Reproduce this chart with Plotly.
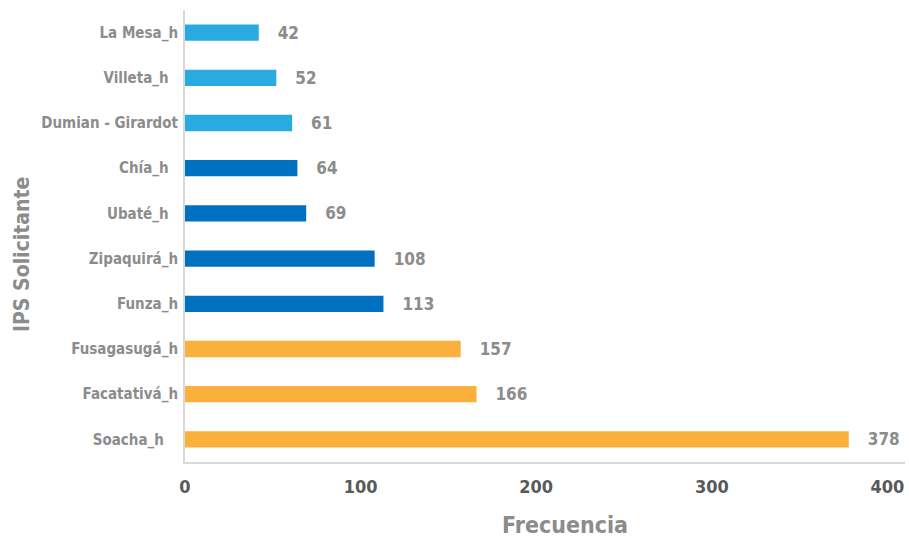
import plotly.graph_objects as go

categories = ["La Mesa_h", "Villeta_h", "Dumian - Girardot", "Chía_h", "Ubaté_h",
              "Zipaquirá_h", "Funza_h", "Fusagasugá_h", "Facatativá_h", "Soacha_h"]
values = [42, 52, 61, 64, 69, 108, 113, 157, 166, 378]
groups = ["light", "light", "light", "dark", "dark", "dark", "dark", "orange", "orange", "orange"]
x_ticks = [0, 100, 200, 300, 400]

palette = {"light": "#29ABE2", "dark": "#0070C0", "orange": "#FBB03B"}
colors = [palette[g] for g in groups]

FONT = "DejaVu Sans Condensed, Roboto, sans-serif"
pad = {"Villeta_h": "\u00a0\u00a0", "Chía_h": "\u00a0\u00a0", "Ubaté_h": "\u00a0\u00a0", "Soacha_h": "\u00a0\u00a0\u00a0"}

fig = go.Figure(go.Bar(
    x=values, y=categories, orientation="h",
    marker=dict(color=colors, line=dict(width=0)),
    width=0.36,
    text=values, texttemplate="<b>\u00a0\u00a0\u00a0%{x}</b>", textposition="outside",
    textfont=dict(family=FONT, size=17, color="#8C8C8C"),
    constraintext="none",
    cliponaxis=False,
))

fig.update_layout(
    template="none",
    width=909, height=538,
    margin=dict(l=185, r=4, t=10, b=76),
    plot_bgcolor="white", paper_bgcolor="white",
    font=dict(family=FONT),
    showlegend=False,
    xaxis=dict(
        range=[0, 410], tickvals=x_ticks, ticktext=["<b>" + str(v) + "</b>" for v in x_ticks],
        showgrid=False, zeroline=False, automargin=False,
        showline=True, linecolor="#D9D9D9", linewidth=2,
        tickfont=dict(family=FONT, size=18, color="#595959"),
        ticks="", ticklabelstandoff=7,
    ),
    yaxis=dict(
        autorange="reversed", automargin=False,
        tickvals=categories, ticktext=["<b>" + c + pad.get(c, "") + "</b>" for c in categories],
        showgrid=False, zeroline=False,
        showline=True, linecolor="#D9D9D9", linewidth=2,
        tickfont=dict(family=FONT, size=15, color="#8C8C8C"),
        ticks="", ticklabelstandoff=2,
    ),
    annotations=[
        dict(text="<b>Frecuencia</b>", xref="paper", yref="paper",
             x=(565 - 185) / 720, y=-(525 - 462) / 452, xanchor="center", yanchor="middle",
             showarrow=False, font=dict(family=FONT, size=23, color="#8C8C8C")),
        dict(text="<b>IPS Solicitante</b>", xref="paper", yref="paper",
             x=-(185 - 22) / 720, y=(462 - 255) / 452, xanchor="center", yanchor="middle",
             textangle=-90, showarrow=False, font=dict(family=FONT, size=21, color="#8C8C8C")),
    ],
)

fig.write_html("out.html", config={"displayModeBar": False},
               post_script="document.body.style.margin='0';document.body.style.overflow='hidden';")
